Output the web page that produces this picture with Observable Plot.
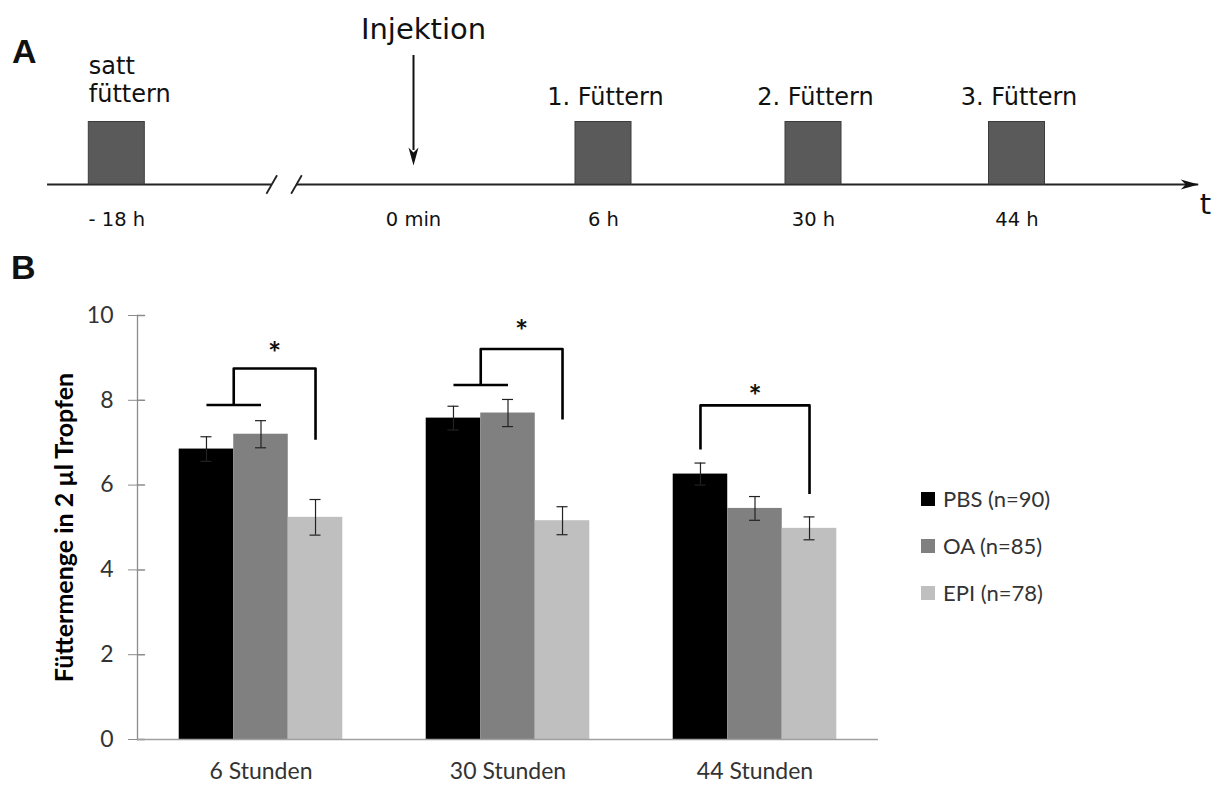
<!DOCTYPE html>
<html>
<head>
<meta charset="utf-8">
<script src="https://cdn.jsdelivr.net/npm/d3@7"></script>
<script src="https://cdn.jsdelivr.net/npm/@observablehq/plot@0.6"></script>
<style>
  html, body { margin: 0; padding: 0; background: #fff; }
  #fig { position: relative; width: 1217px; height: 785px; overflow: hidden; background: #fff; }
  .panel-letter { position: absolute; font-family: "Liberation Sans", Arial, sans-serif; font-weight: bold; font-size: 34px; line-height: 1; color: #111; }
  #timeline { position: absolute; left: 0; top: 0; }
  #bars { position: absolute; left: 0; top: 250px; }
  #legend { position: absolute; left: 921px; top: 475px; }
  .lg-swatches { margin: 0 !important; min-height: 0 !important; }
  .lg-swatch { height: 47px; padding-bottom: 0 !important; }
  .lg-swatch > svg { margin-right: 8px !important; }
</style>
</head>
<body>
<div id="fig">
  <div class="panel-letter" style="left:12px; top:34px;">A</div>
  <div class="panel-letter" style="left:11px; top:250px;">B</div>
  <div id="timeline"></div>
  <div id="bars"></div>
  <div id="legend"></div>
</div>
<script>
// ---------- Panel A: feeding schedule ----------
const feedTimes = [-18, 6, 30, 44];                 // hours relative to injection
const feedLabels = ["satt\nfüttern", "1. Füttern", "2. Füttern", "3. Füttern"];
const markTimes = [-18, 0, 6, 30, 44];
const markLabels = ["- 18 h", "0 min", "6 h", "30 h", "44 h"];
const injectionTime = 0;
const injectionLabel = "Injektion";
const axisStart = -22.2, breakFrom = -8.6, breakTo = -7.1, axisEnd = 56.5;
const axisName = "t";

// schematic (non-proportional) time axis
const timeDomain = [-18, 0, 6, 30, 44];
const timeRange = [116.3, 413, 603, 813, 1016.5];

const arrowHead = {draw(ctx) { ctx.moveTo(0, 0); ctx.lineTo(-18, -5); ctx.lineTo(-13, 0); ctx.lineTo(-18, 5); ctx.closePath(); }};
const slash = {draw(ctx) { ctx.moveTo(-5.3, 9.3); ctx.lineTo(5.3, -9.3); }};

const timeline = Plot.plot({
  width: 1217, height: 245, margin: 0,
  style: {fontFamily: '"DejaVu Sans", Verdana, sans-serif', fontSize: "24px", color: "#111", background: "transparent", overflow: "visible"},
  x: {type: "linear", domain: timeDomain, range: timeRange, axis: null},
  y: {domain: [0, 1], range: [184, 121.5], axis: null},
  marks: [
    Plot.ruleY([0], {x1: axisStart, x2: breakFrom, stroke: "#222", strokeWidth: 2}),
    Plot.ruleY([0], {x1: breakTo, x2: axisEnd, stroke: "#222", strokeWidth: 2}),
    Plot.dot([breakFrom, breakTo], {x: d => d, y: 0, symbol: slash, fill: "none", stroke: "#222", strokeWidth: 1.8}),
    Plot.dot([axisEnd], {x: d => d, y: 0, symbol: arrowHead, fill: "#111", stroke: "none"}),
    Plot.text([axisName], {x: () => axisEnd, y: 0, textAnchor: "start", lineAnchor: "bottom", dx: 1, dy: 29, fontSize: 29}),
    // feeding blocks
    Plot.rect(feedTimes, {x1: d => d, x2: d => d, y1: 0, y2: 1, insetLeft: -28, insetRight: -28, fill: "#5a5a5a", stroke: "#3c3c3c", strokeWidth: 1}),
    Plot.text(feedTimes.slice(0, 1), {x: d => d, y: 1, text: (d, i) => feedLabels[i], textAnchor: "start", lineAnchor: "bottom", lineHeight: 1.17, dx: -28, dy: -20}),
    Plot.text(feedTimes.slice(1), {x: d => d, y: 1, text: (d, i) => feedLabels[i + 1], lineAnchor: "bottom", dx: 2, dy: -17.5}),
    Plot.text(markTimes, {x: d => d, y: 0, text: (d, i) => markLabels[i], lineAnchor: "bottom", dy: 41, fontSize: 19.5}),
    // injection arrow
    Plot.ruleX([injectionTime], {insetTop: 55, insetBottom: 95, stroke: "#111", strokeWidth: 2}),
    Plot.dot([injectionTime], {x: d => d, frameAnchor: "bottom", dy: -80, rotate: 90, symbol: arrowHead, fill: "#111", stroke: "none"}),
    Plot.text([injectionLabel], {x: () => injectionTime, frameAnchor: "top", lineAnchor: "bottom", dy: 38.3, dx: 10, fontSize: 29})
  ]
});
document.getElementById("timeline").append(timeline);

// ---------- Panel B: feeding amount ----------
const times = ["6 Stunden", "30 Stunden", "44 Stunden"];
const groups = ["PBS", "OA", "EPI"];
const groupN = [90, 85, 78];
const groupColors = ["#000000", "#808080", "#bfbfbf"];
const pbsMean = [6.85, 7.58, 6.26];
const oaMean  = [7.20, 7.70, 5.45];
const epiMean = [5.24, 5.16, 4.98];
const pbsErr = [0.29, 0.28, 0.26];
const oaErr  = [0.32, 0.32, 0.28];
const epiErr = [0.42, 0.33, 0.27];
const yTicks = [0, 2, 4, 6, 8, 10];
const yLabel = "Füttermenge in 2 µl Tropfen";

// significance brackets: PBS+OA pooled vs EPI (6 h, 30 h), PBS vs EPI (44 h)
const sigPooled    = [true, true, false];
const sigJoin      = [7.89, 8.36, null];
const sigTop       = [8.75, 9.21, 7.88];
const sigLeftFoot  = [7.89, 8.36, 6.84];
const sigRightFoot = [7.07, 7.55, 5.79];
const sigStar      = [9.29, 9.80, 8.27];

const means = [pbsMean, oaMean, epiMean];
const errs = [pbsErr, oaErr, epiErr];
const legendLabels = groups.map((g, i) => `${g} (n=${groupN[i]})`);

const bars = times.flatMap((t, ti) => groups.map((g, gi) => ({
  time: t, slot: gi, label: legendLabels[gi], mean: means[gi][ti], err: errs[gi][ti]
})));
const caps = bars.flatMap(d => [d.mean - d.err, d.mean + d.err].map(y => ({time: d.time, c: d.slot + 0.5, y})));

const center = g => groups.indexOf(g) + 0.5;
const bracketPts = [];
const stars = [];
times.forEach((t, i) => {
  const left = sigPooled[i] ? groups.indexOf("OA") : center("PBS");
  const right = center("EPI");
  [[left, sigLeftFoot[i]], [left, sigTop[i]], [right, sigTop[i]], [right, sigRightFoot[i]]]
    .forEach(([x, y]) => bracketPts.push({time: t, id: "b" + i, x, y}));
  if (sigPooled[i]) {
    bracketPts.push({time: t, id: "j" + i, x: center("PBS"), y: sigJoin[i]});
    bracketPts.push({time: t, id: "j" + i, x: center("OA"), y: sigJoin[i]});
  }
  stars.push({time: t, x: (left + right) / 2, y: sigStar[i]});
});

const tickInside = {draw(ctx, l) { ctx.moveTo(0, 0); ctx.lineTo(0, -l); }};

const chart = Plot.plot({
  width: 1217, height: 535,
  marginLeft: 136, marginRight: 338, marginTop: 65, marginBottom: 46,
  style: {fontFamily: "Lato, sans-serif", fontSize: "23px", color: "#333", background: "transparent", overflow: "visible"},
  fx: {domain: times, padding: 0},
  x: {domain: [-0.765, 3.765], axis: null},
  y: {domain: [0, 10]},
  color: {domain: legendLabels, range: groupColors},
  marks: [
    Plot.rect(bars, {fx: "time", x1: "slot", x2: d => d.slot + 1, y1: 0, y2: "mean", fill: "label"}),
    Plot.frame({anchor: "left", facetAnchor: "left", stroke: "#8c8c8c", strokeWidth: 1.3}),
    Plot.axisY({ticks: yTicks, tickSize: 9, tickPadding: 15, stroke: "#8c8c8c", fill: "#333", label: null}),
    Plot.vector(yTicks, {y: d => d, frameAnchor: "left", facetAnchor: "left", length: 7, rotate: 90, anchor: "start", shape: tickInside, stroke: "#8c8c8c"}),
    Plot.axisFx({anchor: "bottom", tickSize: 0, tickPadding: 23, label: null, fill: "#333"}),
    Plot.ruleY([0], {stroke: "#a0a0a0", strokeWidth: 1.5}),
    Plot.ruleX(bars, {fx: "time", x: d => d.slot + 0.5, y1: d => d.mean - d.err, y2: d => d.mean + d.err, stroke: "#222", strokeWidth: 1.2}),
    Plot.ruleY(caps, {fx: "time", x1: "c", x2: "c", y: "y", insetLeft: -5.5, insetRight: -5.5, stroke: "#222", strokeWidth: 1.2}),
    Plot.line(bracketPts, {fx: "time", x: "x", y: "y", z: "id", stroke: "#000", strokeWidth: 2.6, strokeLinejoin: "round", strokeLinecap: "butt"}),
    Plot.text(stars, {fx: "time", x: "x", y: "y", text: () => "*", fontWeight: "bold", fontSize: 31, fill: "#111", dy: 8}),
    Plot.text([yLabel], {frameAnchor: "left", facetAnchor: "left", textAnchor: "middle", rotate: -90, dx: -73, fontWeight: "bold", fontSize: 25, fill: "#000"})
  ]
});
document.getElementById("bars").append(chart);

const legend = chart.legend("color", {
  columns: 1, swatchSize: 14, className: "lg",
  style: {fontFamily: "Lato, sans-serif", fontSize: "22px", color: "#333"}
});
document.getElementById("legend").append(legend);
</script>
</body>
</html>
